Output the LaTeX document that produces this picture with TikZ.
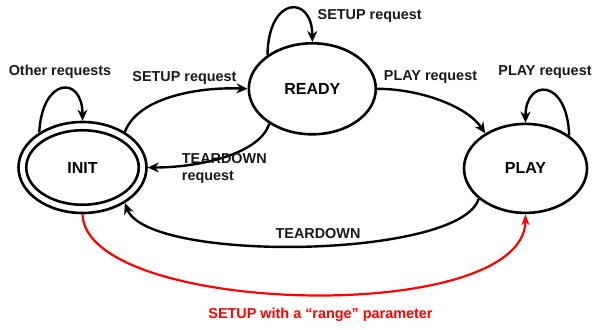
\documentclass[tikz,border=0pt]{standalone}
\usepackage{fontspec}
\setmainfont{Liberation Sans}
\usetikzlibrary{shapes.geometric,arrows.meta}
\begin{document}
\begin{tikzpicture}[x=1pt,y=-1pt,
  state/.style={draw,ellipse,line width=2.6pt,inner sep=0pt,font=\fontsize{16}{18}\selectfont\bfseries},
  lbl/.style={anchor=base,inner sep=0pt,font=\fontsize{14.4}{16.7}\selectfont\bfseries,text=black!90},
  edge/.style={line width=2.4pt,-{Stealth[length=11pt,width=10pt,inset=3.5pt]}},
  rededge/.style={edge,line width=2.2pt,draw=red,-{Stealth[length=11pt,width=8pt,inset=3.5pt]}}]
\useasboundingbox (0,0) rectangle (593,329);
% states
\node[state,minimum width=128pt,minimum height=91pt] (INIT) at (82.5,167.5) {INIT};
\node[draw,ellipse,line width=2.6pt,inner sep=0pt,minimum width=112.5pt,minimum height=74.5pt] (INITin) at (INIT.center) {};
\node[state,minimum width=127pt,minimum height=91pt] (READY) at (312.3,88.8) {READY};
\node[state,minimum width=123pt,minimum height=89pt] (PLAY) at (525.5,168.4) {PLAY};
% self loops
\draw[edge] (INIT.141) .. controls +(3,-56) and +(0,-45) .. (INIT.90);
\draw[edge] (READY.143) .. controls +(1,-60) and +(0,-47) .. (READY.90);
\draw[edge] (PLAY.37) .. controls +(-2,-58) and +(0,-44) .. (PLAY.90);
% transitions
\draw[edge] (INIT.40) .. controls +(13,-35) and +(-48,-2) .. (READY.180);
\draw[edge] (READY.-141) .. controls +(-9,30) and +(52,0) .. (INIT.0);
\draw[edge] (READY.0) .. controls +(43,0) and +(-18,-27) .. (PLAY.139);
\draw[edge] (PLAY.-147) .. controls +(-18,60) and +(23,60) .. (INIT.-40);
\draw[rededge] (INIT.-90) .. controls +(3,101) and +(-1,113) .. (PLAY.-90);
% labels
\node[lbl] (lother) at (60,75) {Other requests};
\node[lbl] (lsetup) at (184.5,81) {SETUP request};
\node[lbl] (lsetupself) at (369.7,20) {SETUP request};
\node[lbl] (lplay) at (430.5,80) {PLAY request};
\node[lbl] (lplayself) at (545,75.3) {PLAY request};
\node[lbl,anchor=base west,align=left] (lteardownreq) at (181.7,180) {TEARDOWN\\request};
\node[lbl] (lteardown) at (318,238.3) {TEARDOWN};
\node[lbl,text=red] (lrange) at (320.5,318.3) {SETUP with a “range” parameter};
\end{tikzpicture}
\end{document}
